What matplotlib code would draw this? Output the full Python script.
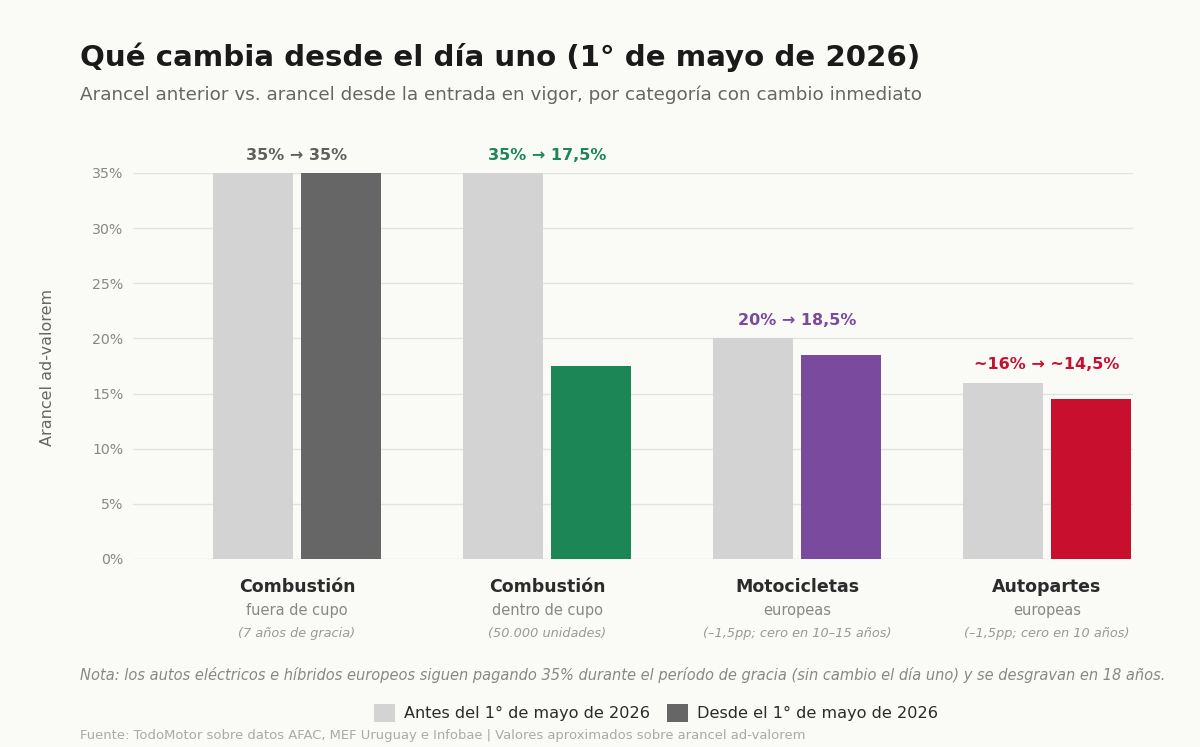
import matplotlib
matplotlib.use("Agg")
import matplotlib.pyplot as plt
import matplotlib.transforms as mtransforms
from matplotlib.patches import Patch
import numpy as np

categories = ["Combustión", "Combustión", "Motocicletas", "Autopartes"]
subtitles = ["fuera de cupo", "dentro de cupo", "europeas", "europeas"]
details = ["(7 años de gracia)", "(50.000 unidades)",
           "(–1,5pp; cero en 10–15 años)", "(–1,5pp; cero en 10 años)"]
before = [35, 35, 20, 16]
after = [35, 17.5, 18.5, 14.5]
change_labels = ["35% → 35%", "35% → 17,5%", "20% → 18,5%", "~16% → ~14,5%"]
after_colors = ["#666666", "#1c8656", "#7a4a9e", "#c8102e"]
before_color = "#d3d3d3"
yticks = [0, 5, 10, 15, 20, 25, 30, 35]

BG = "#fafaf7"
fig = plt.figure(figsize=(12, 7.47), dpi=100, facecolor=BG)
ax = fig.add_axes([133/1200, 1-559/747, 1000/1200, (559-173)/747])
ax.set_facecolor(BG)

x = np.arange(len(categories))
w = 0.32
off = 0.176
ax.bar(x - off, before, width=w, color=before_color, zorder=2)
ax.bar(x + off, after, width=w, color=after_colors, zorder=2)

ax.set_xlim(-0.656, 3.344)
ax.set_ylim(0, 35)
ax.set_yticks(yticks)
ax.set_yticklabels([f"{v}%" for v in yticks])
ax.tick_params(axis="y", length=0, labelsize=10.2, labelcolor="#888888", pad=7)
ax.set_xticks([])
for s in ax.spines.values():
    s.set_visible(False)
ax.grid(axis="y", color="#e3e3e0", linewidth=1, zorder=0)
ax.set_axisbelow(True)

for i in range(len(categories)):
    top = max(before[i], after[i])
    ax.annotate(change_labels[i], (x[i], top), xytext=(0, 7.5), textcoords="offset points",
                ha="center", va="bottom", fontsize=11.5, fontweight="bold",
                color=after_colors[i] if i > 0 else "#5f5f5f", annotation_clip=False)

trans = mtransforms.blended_transform_factory(ax.transData, fig.transFigure)
for i in range(len(categories)):
    ax.text(x[i], 1-587/747, categories[i], transform=trans, ha="center", va="center",
            fontsize=12.5, fontweight="bold", color="#2b2b2b")
    ax.text(x[i], 1-611/747, subtitles[i], transform=trans, ha="center", va="center",
            fontsize=10.5, color="#888888")
    ax.text(x[i], 1-634/747, details[i], transform=trans, ha="center", va="center",
            fontsize=9.3, style="italic", color="#999999")

fig.text(48/1200, 1-367/747, "Arancel ad-valorem", rotation=90, ha="center", va="center",
         fontsize=11.5, color="#666666")

fig.text(80/1200, 1-57/747, "Qué cambia desde el día uno (1° de mayo de 2026)",
         ha="left", va="center", fontsize=21.1, fontweight="bold", color="#1a1a1a")
fig.text(80/1200, 1-95/747,
         "Arancel anterior vs. arancel desde la entrada en vigor, por categoría con cambio inmediato",
         ha="left", va="center", fontsize=13.28, color="#666666")

fig.text(80/1200, 1-675/747,
         "Nota: los autos eléctricos e híbridos europeos siguen pagando 35% durante el período de gracia (sin cambio el día uno) y se desgravan en 18 años.",
         ha="left", va="center", fontsize=10.56, style="italic", color="#888888")

handles = [Patch(facecolor=before_color, label="Antes del 1° de mayo de 2026"),
           Patch(facecolor="#666666", label="Desde el 1° de mayo de 2026")]
fig.legend(handles=handles, loc="center", bbox_to_anchor=(656/1200, 1-713/747), ncol=2,
           frameon=False, fontsize=11.6, handlelength=1.3, handleheight=1.3,
           handletextpad=0.6, columnspacing=1.0, labelcolor="#2b2b2b")

fig.text(80/1200, 1-736/747,
         "Fuente: TodoMotor sobre datos AFAC, MEF Uruguay e Infobae | Valores aproximados sobre arancel ad-valorem",
         ha="left", va="center", fontsize=9.45, color="#aaaaaa")

fig.savefig("out.png", dpi=100, facecolor=BG)
